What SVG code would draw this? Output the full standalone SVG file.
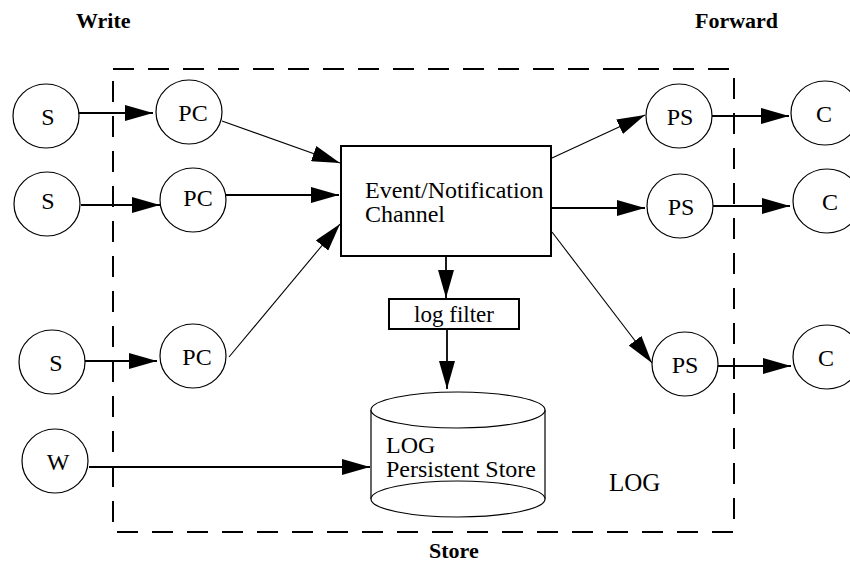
<svg xmlns="http://www.w3.org/2000/svg" width="850" height="571" viewBox="0 0 850 571">
  <style>
    .node { fill: #fff; stroke: #000; stroke-width: 1.2; }
    .box { fill: #fff; stroke: #000; stroke-width: 2; }
    .lbl { font-family: "Liberation Serif", "Times New Roman", serif; font-size: 24px; fill: #000; }
    .c { text-anchor: middle; }
    .title { font-family: "Liberation Serif", "Times New Roman", serif; font-size: 22px; font-weight: bold; fill: #000; }
    .edge { stroke: #000; stroke-width: 1.8; fill: none; marker-end: url(#arrow); }
    .edge.thin { stroke-width: 1.1; }
    .frame { fill: none; stroke: #000; stroke-width: 2; stroke-dasharray: 21 14; }
  </style>
  <defs>
    <marker id="arrow" markerUnits="userSpaceOnUse" markerWidth="28" markerHeight="16" refX="28" refY="8" orient="auto">
      <path d="M0,0 L28,8 L0,16 z" fill="#000"/>
    </marker>
  </defs>
  <rect width="850" height="571" fill="#fff"/>

  <!-- section titles -->
  <text class="title" x="76" y="28">Write</text>
  <text class="title" x="695" y="28">Forward</text>
  <text class="title" x="429" y="558">Store</text>

  <!-- LOG service boundary -->
  <g id="log-boundary">
    <rect class="frame" x="113" y="69" width="621" height="463"/>
    <text class="lbl" x="609" y="491" style="font-size:25px">LOG</text>
  </g>

  <!-- connectors -->
  <g id="connectors">
    <line class="edge" x1="77" y1="113" x2="153" y2="113"/>
    <line class="edge" x1="81" y1="205" x2="160" y2="205"/>
    <line class="edge" x1="85" y1="361" x2="157" y2="361"/>
    <line class="edge" x1="89" y1="467" x2="370" y2="467"/>
    <line class="edge thin" x1="222" y1="121" x2="340" y2="163"/>
    <line class="edge" x1="226" y1="195" x2="339" y2="195"/>
    <line class="edge thin" x1="229" y1="357" x2="340" y2="224"/>
    <line class="edge thin" x1="552" y1="158" x2="645" y2="115"/>
    <line class="edge" x1="552" y1="208" x2="645" y2="208"/>
    <line class="edge thin" x1="552" y1="232" x2="652" y2="363"/>
    <line class="edge" x1="712" y1="116" x2="789" y2="116"/>
    <line class="edge" x1="713" y1="206" x2="790" y2="206"/>
    <line class="edge" x1="718" y1="366" x2="791" y2="366"/>
    <line class="edge" x1="446" y1="257" x2="446" y2="298"/>
    <line class="edge" x1="447" y1="330" x2="447" y2="389"/>
  </g>

  <!-- sources -->
  <g id="s1"><ellipse class="node" cx="46" cy="116" rx="33" ry="32"/><text class="lbl c" x="48" y="125">S</text></g>
  <g id="s2"><ellipse class="node" cx="47" cy="204" rx="33" ry="32"/><text class="lbl c" x="48" y="209">S</text></g>
  <g id="s3"><ellipse class="node" cx="52" cy="362" rx="33" ry="32"/><text class="lbl c" x="56" y="371">S</text></g>
  <g id="w"><ellipse class="node" cx="55" cy="461" rx="33" ry="32"/><text class="lbl c" x="58" y="470">W</text></g>

  <!-- push consumers -->
  <g id="pc1"><ellipse class="node" cx="189" cy="112" rx="33" ry="32"/><text class="lbl c" x="193" y="121">PC</text></g>
  <g id="pc2"><ellipse class="node" cx="193" cy="200" rx="33" ry="32"/><text class="lbl c" x="198" y="206">PC</text></g>
  <g id="pc3"><ellipse class="node" cx="193" cy="356" rx="33" ry="32"/><text class="lbl c" x="197" y="365">PC</text></g>

  <!-- event channel -->
  <g id="channel">
    <rect class="box" x="341" y="146" width="210" height="110"/>
    <text class="lbl" x="365" y="198">Event/Notification</text>
    <text class="lbl" x="365" y="222">Channel</text>
  </g>

  <!-- log filter -->
  <g id="filter">
    <rect class="box" x="389" y="299" width="130" height="30"/>
    <text class="lbl c" x="454" y="322" style="font-size:23px">log filter</text>
  </g>

  <!-- persistent store -->
  <g id="store">
    <path class="node" d="M371,410 L371,499 A87,18 0 0 0 545,499 L545,410"/>
    <path class="node" d="M371,499 A87,18 0 0 1 545,499" fill="none"/>
    <ellipse class="node" cx="458" cy="410" rx="87" ry="18"/>
    <text class="lbl" x="386" y="453">LOG</text>
    <text class="lbl" x="386" y="477">Persistent Store</text>
  </g>

  <!-- push suppliers -->
  <g id="ps1"><ellipse class="node" cx="679" cy="116" rx="33" ry="32"/><text class="lbl c" x="680" y="125">PS</text></g>
  <g id="ps2"><ellipse class="node" cx="680" cy="206" rx="33" ry="32"/><text class="lbl c" x="681" y="215">PS</text></g>
  <g id="ps3"><ellipse class="node" cx="685" cy="364" rx="33" ry="32"/><text class="lbl c" x="685" y="373">PS</text></g>

  <!-- consumers -->
  <g id="c1"><ellipse class="node" cx="825" cy="113" rx="34" ry="32"/><text class="lbl c" x="824" y="122">C</text></g>
  <g id="c2"><ellipse class="node" cx="827" cy="201" rx="34" ry="32"/><text class="lbl c" x="830" y="210">C</text></g>
  <g id="c3"><ellipse class="node" cx="827" cy="357" rx="34" ry="32"/><text class="lbl c" x="826" y="366">C</text></g>
</svg>
